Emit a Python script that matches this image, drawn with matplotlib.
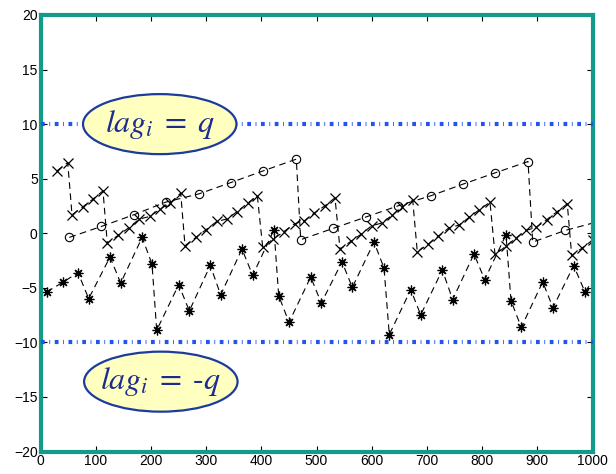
import numpy as np
import matplotlib
matplotlib.use("Agg")
import matplotlib.pyplot as plt
from matplotlib.patches import Ellipse

plt.rcParams['font.family'] = ['Liberation Sans', 'DejaVu Sans']
plt.rcParams['mathtext.fontset'] = 'stix'

# circle series
circ_x = [52.2, 110.1, 168.8, 226.8, 287.1, 345.1, 403.6, 463.4, 471.4, 529.9,
          589.1, 648.2, 706.9, 765.4, 823.9, 883.2, 891.7, 950.7, 1009.1]
circ_y = [-0.38, 0.62, 1.69, 2.85, 3.61, 4.65, 5.72, 6.79, -0.59, 0.44,
          1.48, 2.52, 3.43, 4.50, 5.54, 6.57, -0.81, 0.26, 1.05]

# cross series
cross_x = [29.9, 49.3,
           57.1, 76.1, 95.1, 113.2,
           121.0, 140.4, 159.8, 179.0, 197.8, 216.5, 234.6, 254.0,
           261.8, 281.7, 299.8, 319.2, 337.3, 356.5, 375.4, 392.8,
           402.5, 421.7, 441.1, 460.5, 477.9, 496.0, 515.4, 533.5,
           542.6, 562.0, 581.2, 600.0, 618.1, 636.8, 654.3, 674.3,
           682.6, 701.4, 720.7, 739.5, 758.2, 776.3, 794.9, 814.3,
           823.4, 842.8, 861.4, 879.5, 897.6, 917.0, 935.7, 954.3,
           962.3, 981.5, 1000.9, 1019.9]
cross_y = [5.72, 6.48,
           1.69, 2.40, 3.13, 3.89,
           -0.90, -0.20, 0.50, 1.30, 1.54, 2.21, 2.76, 3.68,
           -1.14, -0.38, 0.32, 1.08, 1.30, 1.99, 2.76, 3.43,
           -1.26, -0.53, 0.16, 0.87, 1.14, 1.85, 2.52, 3.25,
           -1.45, -0.75, -0.07, 0.69, 0.93, 1.65, 2.40, 3.04,
           -1.72, -1.02, -0.29, 0.48, 0.75, 1.45, 2.15, 2.85,
           -1.94, -1.21, -0.44, 0.26, 0.53, 1.24, 1.97, 2.70,
           -2.03, -1.35, -0.59, 0.14]

# asterisk series
star_x = [11.2, 40.2, 67.9, 87.3, 125.9, 145.3, 184.1, 202.0, 210.5, 250.4,
          269.6, 307.6, 326.4, 365.0, 384.4, 423.0, 431.5, 450.2, 489.5, 508.7,
          546.2, 564.9, 604.2, 622.3, 631.9, 670.7, 688.8, 727.9, 746.7, 785.3,
          804.7, 843.3, 852.4, 871.0, 909.8, 928.4, 965.9, 986.4, 1024.5]
star_y = [-5.38, -4.50, -3.61, -5.99, -2.18, -4.56, -0.38, -2.82, -8.89, -4.71,
          -7.12, -2.95, -5.65, -1.45, -3.86, 0.32, -5.72, -8.16, -4.01, -6.39,
          -2.62, -4.96, -0.81, -3.18, -9.29, -5.17, -7.48, -3.37, -6.08, -1.90,
          -4.25, -0.14, -6.20, -8.62, -4.46, -6.82, -2.97, -5.38, -2.61]

lag_bound = 10
labels = [r'$lag_i\;=\;q$', r'$lag_i\;=\;\text{-}q$']
label_x = [216, 218]
label_y = [10, -13.6]

fig = plt.figure(figsize=(6.16, 4.74), dpi=100)
ax = fig.add_axes([40.5 / 616, 1 - 451.5 / 474, 552 / 616, 436.5 / 474])

dash = (0, (6, 4))
ax.plot(circ_x, circ_y, color='black', lw=0.8, linestyle=dash,
        marker='o', markersize=6, markerfacecolor='none', markeredgewidth=0.8)
ax.plot(cross_x, cross_y, color='black', lw=0.8, linestyle=dash,
        marker='x', markersize=7, markeredgewidth=0.9)
ax.plot(star_x, star_y, color='black', lw=0.8, linestyle=dash,
        marker=(8, 2, 0), markersize=7, markeredgewidth=0.9)

for yv in (lag_bound, -lag_bound):
    ax.axhline(yv, color='#2255ee', lw=3, linestyle=(0, (0.9, 1.1, 0.2, 1.1)), zorder=3)

for lab, lx, ly in zip(labels, label_x, label_y):
    ax.add_patch(Ellipse((lx, ly), 278, 5.5, facecolor='#ffffc0',
                         edgecolor='#1c3c9c', lw=1.6, zorder=5))
    ax.text(lx, ly, lab, color='#1c2c8c', fontsize=23, ha='center', va='center', zorder=6)

ax.set_xlim(0, 1000)
ax.set_ylim(-20, 20)
ax.set_xticks(np.arange(0, 1001, 100))
ax.set_yticks(np.arange(-20, 21, 5))
ax.tick_params(direction='in', length=4, labelsize=10, top=True, right=True, pad=2)
for s in ax.spines.values():
    s.set_color('#129b8a')
    s.set_linewidth(3)

fig.savefig('out.png', dpi=100)
